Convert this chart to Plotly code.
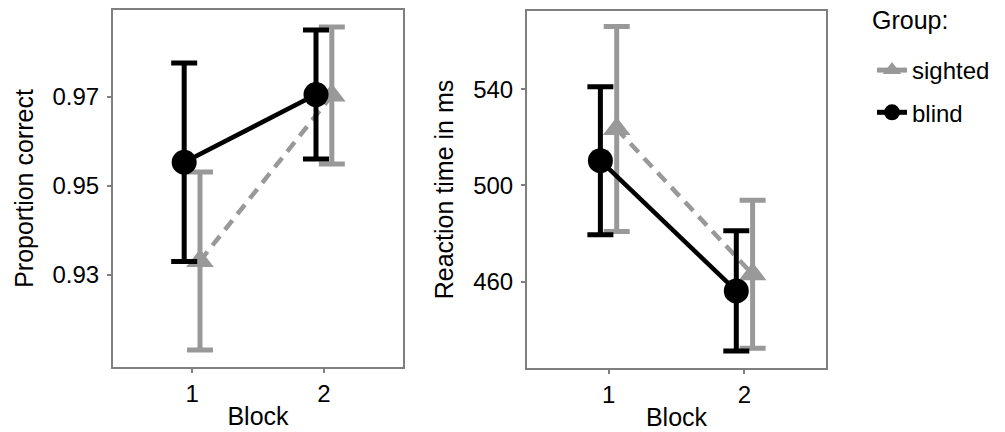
import plotly.graph_objects as go

# Data
blocks = [1, 2]
groups = ["sighted", "blind"]
dodge = {"sighted": 0.06, "blind": -0.06}

acc_mean = {"sighted": [0.9331, 0.9703], "blind": [0.9553, 0.9705]}
acc_err = {"sighted": [0.0200, 0.0154], "blind": [0.0223, 0.0145]}

rt_mean = {"sighted": [523.5, 463.0], "blind": [510.3, 456.1]}
rt_err = {"sighted": [42.7, 30.8], "blind": [30.8, 25.0]}

acc_ticks = [0.93, 0.95, 0.97]
rt_ticks = [460, 500, 540]

colors = {"sighted": "#999999", "blind": "#000000"}
symbols = {"sighted": "triangle-up", "blind": "circle"}
dashes = {"sighted": "12px,8px", "blind": "solid"}
msize = {"sighted": 24, "blind": 25}

FONT = "Liberation Sans, Arial, sans-serif"

fig = go.Figure()

for g in groups:  # sighted drawn first, blind on top
    xs = [b + dodge[g] for b in blocks]
    for xa, ya, means, errs in [("x", "y", acc_mean, acc_err), ("x2", "y2", rt_mean, rt_err)]:
        fig.add_trace(go.Scatter(
            x=xs, y=means[g], xaxis=xa, yaxis=ya,
            mode="lines+markers",
            line=dict(color=colors[g], width=4.5, dash=dashes[g]),
            marker=dict(symbol=symbols[g], size=msize[g], color=colors[g], line=dict(width=0)),
            error_y=dict(type="data", array=errs[g], visible=True,
                         color=colors[g], thickness=5, width=13),
            showlegend=False, hoverinfo="skip",
        ))

# legend entries
for i, g in enumerate(groups):
    fig.add_trace(go.Scatter(
        x=[None], y=[None], xaxis="x", yaxis="y",
        mode="lines+markers", name=g, legendgroup=g,
        line=dict(color=colors[g], width=5),
        marker=dict(symbol=symbols[g], size=16, color=colors[g]),
    ))

W, H = 1005, 432
axis_common = dict(
    showline=True, linecolor="#7f7f7f", linewidth=2, mirror=True,
    ticks="outside", ticklen=4, tickwidth=2, tickcolor="#7f7f7f",
    showgrid=False, zeroline=False, automargin=False,
    tickfont=dict(family=FONT, size=24, color="#000000"),
)

fig.update_layout(
    width=W, height=H,
    margin=dict(l=0, r=0, t=0, b=0),
    paper_bgcolor="white", plot_bgcolor="white",
    font=dict(family=FONT, color="#000000"),
    xaxis=dict(domain=[113 / W, 403 / W], range=[0.4, 2.6], tickvals=blocks,
               title=dict(text="Block", font=dict(family=FONT, size=25), standoff=2),
               anchor="y", **axis_common),
    yaxis=dict(domain=[1 - 367 / H, 1 - 10 / H], range=[0.9093, 0.9895], tickvals=acc_ticks,
               tickformat=".2f", ticklabelstandoff=3,
               title=dict(text="Proportion correct", font=dict(family=FONT, size=25), standoff=12),
               anchor="x", **axis_common),
    xaxis2=dict(domain=[527 / W, 826 / W], range=[0.4, 2.6], tickvals=blocks,
                title=dict(text="Block", font=dict(family=FONT, size=25), standoff=2),
                anchor="y2", **axis_common),
    yaxis2=dict(domain=[1 - 368 / H, 1 - 11 / H], range=[424, 572.6], tickvals=rt_ticks,
                ticklabelstandoff=3,
                title=dict(text="Reaction time in ms", font=dict(family=FONT, size=25), standoff=12),
                anchor="x2", **axis_common),
    legend=dict(
        font=dict(family=FONT, size=24),
        x=872 / W, xanchor="left", y=1 - 48 / H, yanchor="top",
        traceorder="grouped", tracegroupgap=8,
        bgcolor="rgba(0,0,0,0)",
    ),
    annotations=[dict(
        text="Group:", xref="paper", yref="paper",
        x=870 / W, y=1 - 20 / H, xanchor="left", yanchor="middle",
        showarrow=False, font=dict(family=FONT, size=25, color="#000000"),
    )],
)

fig.write_html("out.html", config={"displayModeBar": False},
               post_script="document.body.style.margin='0';document.body.style.overflow='hidden';")
